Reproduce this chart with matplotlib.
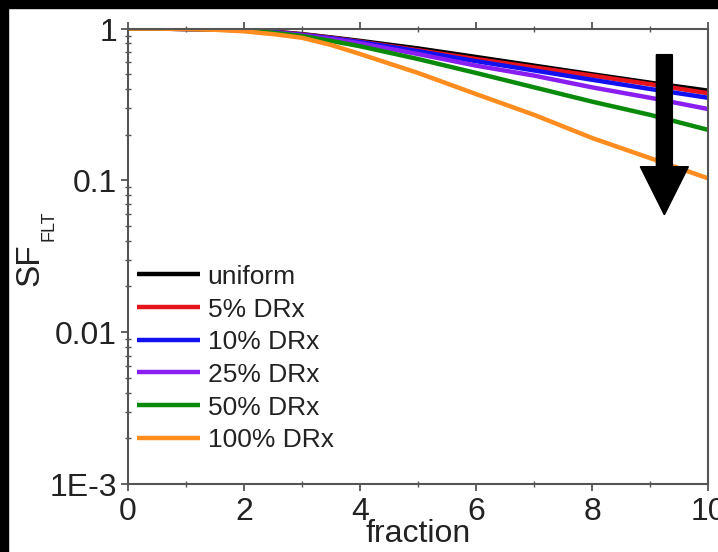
import matplotlib
matplotlib.use("Agg")
import matplotlib.pyplot as plt
from matplotlib.patches import FancyArrow, Rectangle
from matplotlib.ticker import FixedLocator, FixedFormatter, MultipleLocator

plt.rcParams['font.family'] = ['Liberation Sans', 'DejaVu Sans']

# fraction axis samples
fraction = [0, 0.5, 1, 1.5, 2, 2.5, 3, 3.5, 4, 5, 6, 7, 8, 9, 10]

# failure-limit survival fraction for each microstructure
sf_uniform = [1.0, 1.0, 0.995, 0.99, 0.98, 0.955, 0.92, 0.875, 0.83, 0.74, 0.65, 0.57, 0.50, 0.44, 0.39]
sf_drx5 = [1.0, 1.0, 0.995, 0.99, 0.98, 0.955, 0.915, 0.87, 0.82, 0.72, 0.63, 0.555, 0.49, 0.43, 0.375]
sf_drx10 = [1.0, 1.0, 0.995, 0.99, 0.978, 0.95, 0.91, 0.865, 0.815, 0.71, 0.61, 0.53, 0.46, 0.40, 0.35]
sf_drx25 = [1.0, 1.0, 0.995, 0.99, 0.975, 0.945, 0.905, 0.855, 0.80, 0.68, 0.57, 0.49, 0.41, 0.35, 0.295]
sf_drx50 = [1.0, 1.0, 0.995, 0.988, 0.972, 0.94, 0.895, 0.83, 0.765, 0.63, 0.51, 0.41, 0.33, 0.27, 0.215]
sf_drx100 = [1.0, 1.0, 0.993, 0.982, 0.96, 0.92, 0.87, 0.78, 0.68, 0.51, 0.37, 0.27, 0.19, 0.14, 0.103]

series_labels = ['uniform', '5% DRx', '10% DRx', '25% DRx', '50% DRx', '100% DRx']
series_values = [sf_uniform, sf_drx5, sf_drx10, sf_drx25, sf_drx50, sf_drx100]
series_colors = ['#000000', '#e8141c', '#1010f0', '#8a1ef0', '#0a8a0a', '#ff8c1e']

y_ticks = [1e-3, 1e-2, 1e-1, 1]
y_tick_labels = ['1E-3', '0.01', '0.1', '1']
x_ticks = [0, 2, 4, 6, 8, 10]

W, H = 718, 552
fig = plt.figure(figsize=(7.184, 5.524), dpi=100, facecolor='white')
ax = fig.add_axes([128 / W, 1 - 484 / H, 580 / W, 455 / H])

for vals, lab, col in zip(series_values, series_labels, series_colors):
    ax.plot(fraction, vals, color=col, lw=3.2, label=lab, solid_capstyle='butt',
            solid_joinstyle='round')

ax.set_yscale('log')
ax.set_xlim(0, 10)
ax.set_ylim(1e-3, 1)

ax.xaxis.set_major_locator(FixedLocator(x_ticks))
ax.xaxis.set_minor_locator(MultipleLocator(1))
ax.yaxis.set_major_locator(FixedLocator(y_ticks))
ax.yaxis.set_major_formatter(FixedFormatter(y_tick_labels))

spine_col = '#555555'
for s in ax.spines.values():
    s.set_color(spine_col)
    s.set_linewidth(1.5)

ax.tick_params(which='major', direction='out', length=5, width=1.3, color=spine_col,
               labelsize=23, labelcolor='#222222', top=True)
ax.tick_params(which='minor', direction='inout', length=4, width=1.0, color=spine_col, top=True)
ax.tick_params(axis='x', which='major', pad=4)
ax.tick_params(axis='y', which='major', pad=3)

ax.set_xlabel('fraction', fontsize=23, color='#222222', labelpad=-6)

# y-axis label with subscript
fig.text(30 / W, 1 - 264 / H, 'SF', rotation=90, fontsize=24, color='#222222',
         ha='center', va='center')
fig.text(49 / W, 1 - 226 / H, 'FLT', rotation=90, fontsize=13, color='#222222',
         ha='center', va='center')

leg = ax.legend(loc='upper left', bbox_to_anchor=(0.0155, 0.482), frameon=False,
                fontsize=19, handlelength=2.4, handletextpad=0.27, labelspacing=0.33,
                borderpad=0, borderaxespad=0)
for t in leg.get_texts():
    t.set_color('#222222')

# trend arrow
fig.patches.append(FancyArrow(664 / W, 1 - 55 / H, 0, -(215 - 55) / H,
                              width=16 / W, head_width=48 / W, head_length=48 / H,
                              length_includes_head=True, color='black',
                              transform=fig.transFigure, figure=fig, zorder=10))

# dark frame strips along the top and left edges
fig.patches.append(Rectangle((0, 1 - 8 / H), 1, 8 / H, color='black',
                             transform=fig.transFigure, figure=fig, zorder=20))
fig.patches.append(Rectangle((0, 0), 8 / W, 1, color='black',
                             transform=fig.transFigure, figure=fig, zorder=20))

fig.savefig('out.png', dpi=100, facecolor='white')
